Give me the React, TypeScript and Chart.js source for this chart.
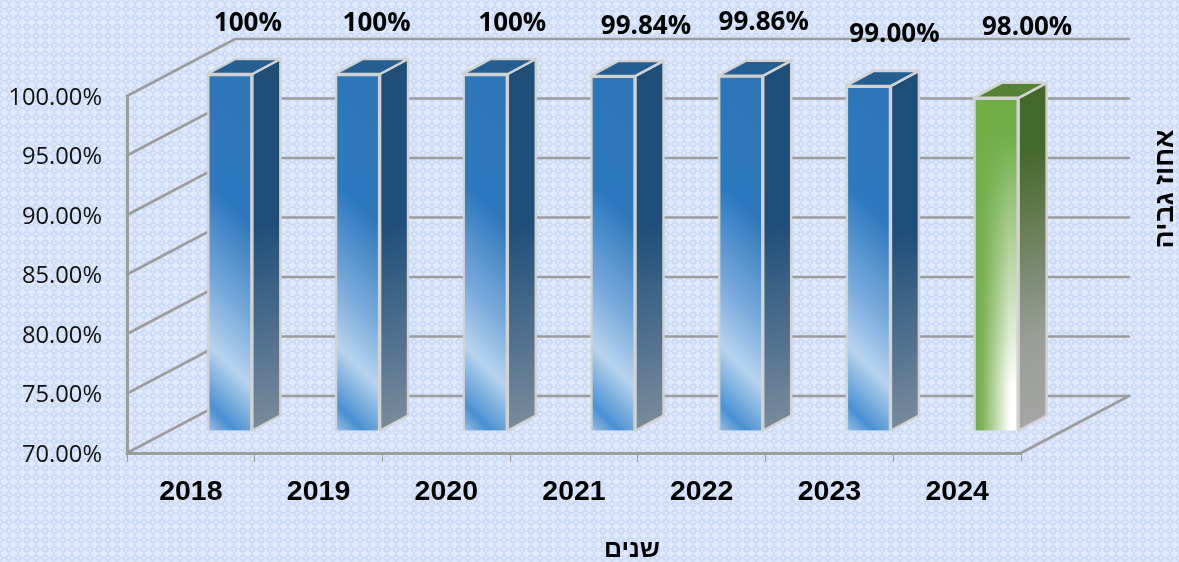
import React, { useEffect, useRef } from "react";
import { Chart, registerables } from "chart.js";

Chart.register(...registerables);

const years = ["2018", "2019", "2020", "2021", "2022", "2023", "2024"];
const collection = [100, 100, 100, 99.84, 99.86, 99, 98];
const barLabels = ["100%", "100%", "100%", "99.84%", "99.86%", "99.00%", "98.00%"];
const labelNudgeX = [18, 19, 27, 33, 23, 26, 31];
const labelNudgeY = [-50, -50, -50, -49, -53, -51, -70];
const xTitle = "שנים";
const yTitle = "אחוז גביה";
const AXIS_MIN = 70;

const WALL = { dx: 108, dy: 57 };
const SHIFT = { dx: 39, dy: 22 };
const DEPTH = { dx: 28, dy: 15 };
const LINE = "#9C9C9C";
const EDGE = "#D2D2D2";
const LAST = years.length - 1;

function makeTile() {
  const c = document.createElement("canvas");
  c.width = 9;
  c.height = 9;
  const g = c.getContext("2d")!;
  g.fillStyle = "#CDDCF8";
  g.fillRect(0, 0, 9, 9);
  g.fillStyle = "#E0E9FB";
  g.fillRect(3, 1, 3, 7);
  g.fillRect(1, 3, 7, 3);
  g.fillStyle = "#EAF0FD";
  g.fillRect(4, 4, 1, 1);
  g.fillStyle = "#E6EDFC";
  g.fillRect(0, 0, 1, 1);
  g.fillRect(8, 8, 1, 1);
  g.fillRect(8, 0, 1, 1);
  g.fillRect(0, 8, 1, 1);
  return c;
}

function bluePaint(g: CanvasRenderingContext2D, left: number, bottom: number) {
  const grad = g.createLinearGradient(left, bottom, left + 200, bottom - 200);
  grad.addColorStop(0, "#9DC3E8");
  grad.addColorStop(0.07, "#4A90D2");
  grad.addColorStop(0.22, "#B6D3EE");
  grad.addColorStop(0.38, "#78AADC");
  grad.addColorStop(0.62, "#2E79BE");
  grad.addColorStop(1, "#2E75B6");
  return grad;
}

function greenPaint(chart: Chart, left: number, width: number, top: number, bottom: number) {
  const off = document.createElement("canvas");
  off.width = chart.width;
  off.height = chart.height;
  const g = off.getContext("2d")!;
  const v = g.createLinearGradient(0, top + 35, 0, bottom);
  v.addColorStop(0, "#70AD47");
  v.addColorStop(0.3, "#A5CB8C");
  v.addColorStop(0.6, "#D2E5C6");
  v.addColorStop(0.85, "#FBFDF9");
  v.addColorStop(1, "#FFFFFF");
  g.fillStyle = v;
  g.fillRect(left - 2, top - 2, width + 4, bottom - top + 4);
  const h = g.createLinearGradient(left, 0, left + width, 0);
  h.addColorStop(0, "rgba(112,173,71,1)");
  h.addColorStop(0.2, "rgba(112,173,71,0.9)");
  h.addColorStop(0.8, "rgba(112,173,71,0)");
  h.addColorStop(1, "rgba(112,173,71,0)");
  g.fillStyle = h;
  g.fillRect(left - 2, top - 2, width + 4, bottom - top + 4);
  return g.createPattern(off, "no-repeat");
}

function frontFill(ctx: any) {
  const chart = ctx.chart;
  const { x, y } = chart.scales;
  if (!x || !y || ctx.dataIndex === undefined) return "#2E75B6";
  const i = ctx.dataIndex;
  const width = 45;
  const left = x.getPixelForValue(i) - width / 2;
  const bottom = y.getPixelForValue(AXIS_MIN);
  const top = y.getPixelForValue(collection[i]);
  if (!Number.isFinite(left) || !Number.isFinite(bottom) || !Number.isFinite(top)) return "#2E75B6";
  if (i === LAST) {
    return greenPaint(chart, left, width, top, bottom) as any;
  }
  return bluePaint(chart.ctx, left, bottom);
}

const backdrop = {
  id: "backdrop",
  beforeDraw(chart: Chart) {
    const g = chart.ctx;
    g.save();
    g.fillStyle = g.createPattern(makeTile(), "repeat")!;
    g.fillRect(0, 0, chart.width, chart.height);
    g.restore();
  },
  beforeDatasetsDraw(chart: Chart) {
    const g = chart.ctx;
    const { x, y } = chart.scales;
    const left = x.left;
    const right = x.right;
    g.save();
    g.strokeStyle = LINE;
    g.lineWidth = 2.7;
    g.lineCap = "round";
    for (const t of y.ticks) {
      const py = y.getPixelForValue(t.value);
      g.beginPath();
      g.moveTo(left, py);
      g.lineTo(left + WALL.dx, py - WALL.dy);
      g.lineTo(right + WALL.dx, py - WALL.dy);
      g.stroke();
    }
    const py0 = y.getPixelForValue(AXIS_MIN);
    g.beginPath();
    g.moveTo(right, py0);
    g.lineTo(right + WALL.dx, py0 - WALL.dy);
    g.stroke();
    g.restore();
  },
  beforeDatasetDraw(chart: Chart, args: any) {
    const g = chart.ctx;
    const bars = args.meta.data as any[];
    g.save();
    bars.forEach((el, i) => {
      const green = i === LAST;
      const l = el.x - el.width / 2 + SHIFT.dx;
      const r = el.x + el.width / 2 + SHIFT.dx;
      const top = el.y - SHIFT.dy;
      const bot = el.base - SHIFT.dy;
      const side = g.createLinearGradient(r, top, r + 90, bot - DEPTH.dy);
      if (green) {
        side.addColorStop(0, "#44682B");
        side.addColorStop(0.16, "#44682B");
        side.addColorStop(0.72, "#9A9E98");
        side.addColorStop(1, "#A6A6A6");
      } else {
        side.addColorStop(0, "#1F4E79");
        side.addColorStop(0.42, "#1F4E79");
        side.addColorStop(1, "#7D8E9E");
      }
      g.fillStyle = side;
      g.strokeStyle = EDGE;
      g.lineWidth = 2.5;
      g.lineJoin = "round";
      g.beginPath();
      g.moveTo(r, top);
      g.lineTo(r + DEPTH.dx, top - DEPTH.dy);
      g.lineTo(r + DEPTH.dx, bot - DEPTH.dy);
      g.lineTo(r, bot);
      g.closePath();
      g.fill();
      g.stroke();
      g.fillStyle = green ? "#548235" : "#255E91";
      g.beginPath();
      g.moveTo(l, top);
      g.lineTo(l + DEPTH.dx, top - DEPTH.dy);
      g.lineTo(r + DEPTH.dx, top - DEPTH.dy);
      g.lineTo(r, top);
      g.closePath();
      g.fill();
      g.stroke();
    });
    g.restore();
    g.save();
    g.translate(SHIFT.dx, -SHIFT.dy);
  },
  afterDatasetDraw(chart: Chart) {
    chart.ctx.restore();
  },
  afterDatasetsDraw(chart: Chart) {
    const g = chart.ctx;
    const meta = chart.getDatasetMeta(0);
    g.save();
    g.fillStyle = "#000000";
    g.textAlign = "center";
    g.textBaseline = "middle";
    g.font = 'bold 26px "Open Sans"';
    (meta.data as any[]).forEach((el, i) => {
      g.fillText(barLabels[i], el.x + SHIFT.dx + labelNudgeX[i], el.y - SHIFT.dy + labelNudgeY[i]);
    });
    g.font = 'bold 25px "Liberation Sans"';
    g.fillText(xTitle, 632, 550);
    g.font = 'bold 27px "Liberation Sans"';
    g.translate(1166, 189);
    g.rotate(-Math.PI / 2);
    g.fillText(yTitle, 0, 0);
    g.restore();
  },
};

export default function App() {
  const ref = useRef<HTMLCanvasElement>(null);
  useEffect(() => {
    const chart = new Chart(ref.current!, {
      type: "bar",
      data: {
        labels: years,
        datasets: [
          {
            data: collection,
            base: AXIS_MIN,
            backgroundColor: frontFill as any,
            borderColor: EDGE,
            borderWidth: 2.5,
            barThickness: 45,
            clip: false as any,
          } as any,
        ],
      },
      plugins: [backdrop],
      options: {
        animation: false,
        responsive: false,
        layout: { padding: { left: 0, top: 96, right: 158, bottom: 0 } },
        plugins: { legend: { display: false }, title: { display: false }, tooltip: { enabled: false } },
        scales: {
          x: {
            afterFit: (s: any) => {
              s.height = 109;
            },
            grid: { drawOnChartArea: false, drawTicks: true, tickLength: 9, color: LINE, lineWidth: 1 },
            border: { color: LINE, width: 3 },
            ticks: {
              autoSkip: false,
              maxRotation: 0,
              padding: 13,
              color: "#000000",
              font: { family: '"Liberation Sans"', size: 28.5, weight: "bold" },
            },
          },
          y: {
            min: AXIS_MIN,
            max: 100,
            afterFit: (s: any) => {
              s.width = 127;
            },
            grid: { drawOnChartArea: false, drawTicks: false },
            border: { color: LINE, width: 3 },
            ticks: {
              stepSize: 5,
              padding: 25,
              labelOffset: 2,
              color: "#111111",
              font: { family: '"Open Sans"', size: 23.7 },
              callback: (v: any) => Number(v).toFixed(2) + "%",
            },
          },
        },
      },
    });
    return () => chart.destroy();
  }, []);
  return (
    <div style={{ position: "fixed", left: 0, top: 0, width: 1179, height: 562 }}>
      <canvas ref={ref} width={1179} height={562} style={{ display: "block" }} />
    </div>
  );
}
